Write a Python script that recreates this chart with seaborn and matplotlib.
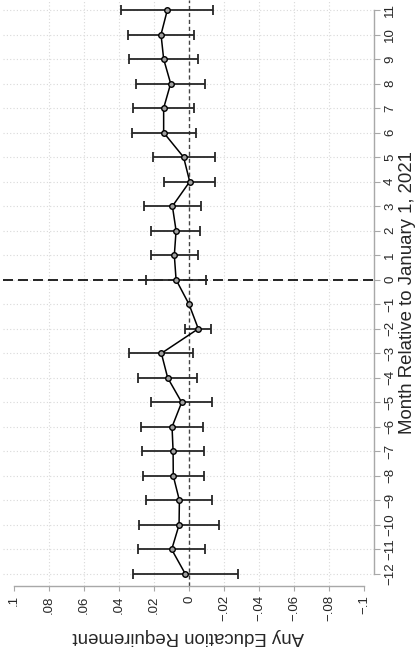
import numpy as np
import pandas as pd
import matplotlib
matplotlib.use('Agg')
import matplotlib.pyplot as plt
import seaborn as sns

# event-study estimates
months = list(range(-12, 12))
coef = [0.0021, 0.0099, 0.0057, 0.0055, 0.0090, 0.0091, 0.0097, 0.0042, 0.0122, 0.0158, -0.0053, 0.0,
        0.0074, 0.0084, 0.0074, 0.0095, -0.0004, 0.0031, 0.0145, 0.0145, 0.0105, 0.0145, 0.0160, 0.0124]
ci_low = [-0.0278, -0.0091, -0.0173, -0.0133, -0.0086, -0.0086, -0.0078, -0.0130, -0.0048, -0.0025, -0.0128, np.nan,
          -0.0095, -0.0051, -0.0065, -0.0067, -0.0149, -0.0149, -0.0038, -0.0029, -0.0091, -0.0051, -0.0031, -0.0139]
ci_high = [0.0320, 0.0290, 0.0288, 0.0244, 0.0265, 0.0268, 0.0272, 0.0215, 0.0292, 0.0341, 0.0023, np.nan,
           0.0244, 0.0219, 0.0215, 0.0257, 0.0141, 0.0206, 0.0328, 0.0318, 0.0301, 0.0341, 0.0350, 0.0387]

value_ticks = [0.1, 0.08, 0.06, 0.04, 0.02, 0.0, -0.02, -0.04, -0.06, -0.08, -0.1]
value_labels = ['.1', '.08', '.06', '.04', '.02', '0', '\u2212.02', '\u2212.04', '\u2212.06', '\u2212.08', '\u2212.1']
month_labels = [str(m).replace('-', '\u2212') for m in months]

df = pd.DataFrame({'month': months, 'coef': coef, 'lo': ci_low, 'hi': ci_high})

sns.set_style('white')
plt.rcParams['font.family'] = ['Liberation Sans', 'DejaVu Sans']

fig = plt.figure(figsize=(4.2, 6.52), dpi=100)
ax = fig.add_axes([3 / 420, 1 - 585.7 / 652, 371 / 420, 585.7 / 652])

grid_kw = dict(color='#d9d9d9', lw=0.8, ls=(0, (1, 2)), zorder=0)
for m in months:
    ax.axhline(m, **grid_kw)
for v in value_ticks[1:-1]:
    if v != 0:
        ax.axvline(v, **grid_kw)

ax.axvline(0, color='#444444', lw=1.0, ls=(0, (3, 2)), zorder=1)
ax.axhline(0, color='black', lw=1.2, ls=(0, (6, 3)), zorder=1)

est = df.dropna()
ax.errorbar(est['coef'], est['month'],
            xerr=[est['coef'] - est['lo'], est['hi'] - est['coef']],
            fmt='none', ecolor='#262626', elinewidth=1.3, capsize=3.7, capthick=1.3, zorder=2)

sns.lineplot(data=df, x='coef', y='month', orient='y', ax=ax, color='black', lw=1.1,
             marker='o', markersize=4.0, markerfacecolor='#a0a0a0', markeredgecolor='black',
             markeredgewidth=1.0, errorbar=None, zorder=3)

ax.set_xlim(0.1063, -0.1057)
ax.set_ylim(-12.477, 11.408)

for s in ['top', 'left']:
    ax.spines[s].set_visible(False)
for s in ['bottom', 'right']:
    ax.spines[s].set_color('#a8a8a8')
    ax.spines[s].set_linewidth(1.0)
ax.spines['bottom'].set_bounds(-0.1, 0.1)
ax.spines['right'].set_bounds(-12, 11)

ax.set_xticks(value_ticks)
ax.set_xticklabels(value_labels, rotation=90, fontsize=9.5)
ax.yaxis.tick_right()
ax.set_yticks(months)
ax.set_yticklabels(month_labels, rotation=90, fontsize=9.5, va='center')
ax.tick_params(axis='x', direction='out', length=3.8, width=0.8, color='#a8a8a8', pad=3, bottom=True)
ax.tick_params(axis='y', direction='out', length=4.2, width=0.8, color='#a8a8a8', pad=3, right=True, left=False)

ax.set_xlabel('Any Education Requirement', fontsize=13.4, rotation=180)
ax.xaxis.label.set_va('center')
ax.xaxis.label.set_ha('center')
ax.xaxis.set_label_coords(0.5, -0.086)

ax.yaxis.set_label_position('right')
ax.set_ylabel('Month Relative to January 1, 2021', fontsize=13.4, rotation=90)
ax.yaxis.label.set_va('center')
ax.yaxis.label.set_ha('center')
ax.yaxis.set_label_coords(1.09, 0.5)

fig.savefig('out.png', dpi=100, facecolor='white')
